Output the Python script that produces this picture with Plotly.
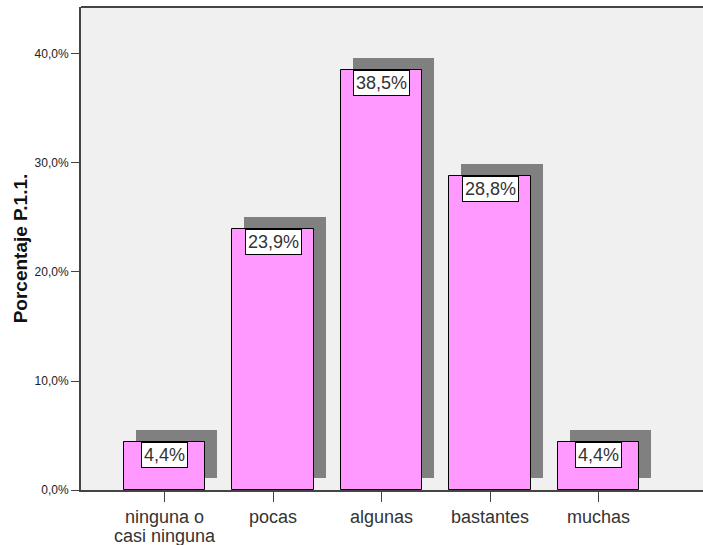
import plotly.graph_objects as go

# Response categories and percentages for item P.1.1.
categories = ["ninguna o\ncasi ninguna", "pocas", "algunas", "bastantes", "muchas"]
percentages = [4.4, 23.9, 38.5, 28.8, 4.4]
value_labels = ["4,4%", "23,9%", "38,5%", "28,8%", "4,4%"]
tick_values = [0, 10, 20, 30, 40]
tick_labels = ["0,0%", "10,0%", "20,0%", "30,0%", "40,0%"]

W, H = 703, 545
M_L, M_R, M_T, M_B = 81, 0, 7, 55
X_RANGE = [-0.7696, 4.963]
Y_RANGE = [0, 44.31]

# drop-shadow offset of 12 px, converted to axis units
px_x = (W - M_L - M_R) / (X_RANGE[1] - X_RANGE[0])
px_y = (H - M_T - M_B) / (Y_RANGE[1] - Y_RANGE[0])
dx = 12 / px_x
dy = 12 / px_y

xs = list(range(len(categories)))
FONT = "Liberation Sans, Arial, sans-serif"

fig = go.Figure()

# shadow bars
fig.add_trace(go.Bar(
    x=[i + dx for i in xs], y=percentages, base=dy, width=0.747,
    marker=dict(color="#808080", line=dict(width=0)),
    hoverinfo="skip", showlegend=False,
))
# main bars
fig.add_trace(go.Bar(
    x=xs, y=percentages, width=0.747,
    marker=dict(color="#ff99ff", line=dict(color="#000000", width=1)),
    showlegend=False,
))

# value boxes hanging from the top of each bar
for i, v, lab in zip(xs, percentages, value_labels):
    fig.add_annotation(
        x=i, y=v, xref="x", yref="y", text=lab, showarrow=False,
        yanchor="top", xanchor="center",
        font=dict(family=FONT, size=18, color="#333333"),
        bgcolor="#ffffff", bordercolor="#000000", borderwidth=1, borderpad=2,
    )

# category labels under the ticks, with tight line spacing
for i, cat in zip(xs, categories):
    for k, line in enumerate(cat.split("\n")):
        fig.add_annotation(
            x=i, y=0, xref="x", yref="paper", text=line, showarrow=False,
            xanchor="center", yanchor="middle", yshift=-(27 + 19 * k),
            font=dict(family=FONT, size=18, color="#333333"),
        )

# frame line along the top of the plotting area
fig.add_shape(type="line", xref="paper", yref="paper", x0=0, x1=1, y0=1, y1=1,
              line=dict(color="#444444", width=2), layer="above")

fig.update_layout(
    width=W, height=H,
    margin=dict(l=M_L, r=M_R, t=M_T, b=M_B, autoexpand=False),
    paper_bgcolor="#ffffff", plot_bgcolor="#f0f0f0",
    barmode="overlay", bargap=0,
    font=dict(family=FONT, color="#222222"),
    xaxis=dict(
        range=X_RANGE, tickmode="array", tickvals=xs, showticklabels=False,
        showgrid=False, zeroline=False, automargin=False,
        showline=True, mirror=False, linecolor="#444444", linewidth=2,
        ticks="outside", ticklen=10, tickwidth=1, tickcolor="#444444",
    ),
    yaxis=dict(
        range=Y_RANGE, tickmode="array", tickvals=tick_values, ticktext=tick_labels,
        showgrid=False, zeroline=False, automargin=False,
        showline=True, mirror=False, linecolor="#444444", linewidth=2,
        ticks="outside", ticklen=8, tickwidth=1, tickcolor="#444444",
        tickfont=dict(family=FONT, size=12, color="#222222"),
        title=dict(text="<b>Porcentaje P.1.1.</b>", standoff=2,
                   font=dict(family=FONT, size=19, color="#111111")),
    ),
)

fig.write_html("out.html")
